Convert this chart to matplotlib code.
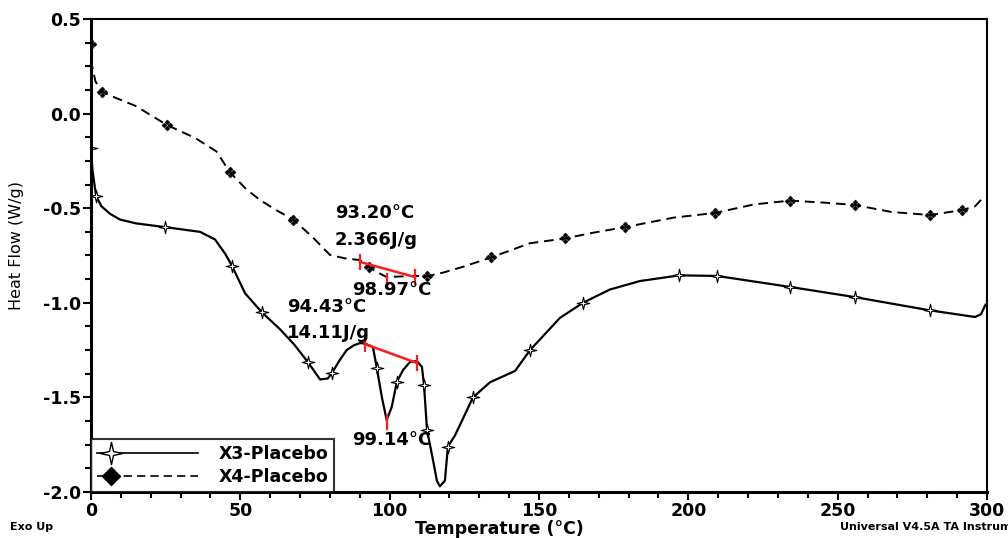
import matplotlib
matplotlib.use("Agg")
import matplotlib.pyplot as plt
from matplotlib.path import Path
from matplotlib.lines import Line2D
from matplotlib.legend_handler import HandlerLine2D
from matplotlib.ticker import MultipleLocator

# X3-Placebo (solid)
x3_temp = [0, 0.5, 1.7, 3.5, 6.4, 9.7, 15, 24.8, 36.5, 41.5, 44.9, 47.2, 51.6, 57.2,
           63.3, 68, 72.6, 76.7, 79.3, 80.7, 83.4, 85.6, 88, 90, 91.7, 94.4, 95.7,
           97.4, 99, 100.7, 102.4, 104.5, 106.8, 109.1, 110.8, 111.5, 112.5, 114.5,
           115.8, 116.8, 118.5, 119.5, 121.9, 127.9, 133.6, 142, 147, 157, 164.7,
           173.7, 183.8, 197, 209.6, 234, 255.8, 280.9, 296, 298, 299.5]
x3_flow = [-0.18, -0.30, -0.435, -0.49, -0.53, -0.56, -0.58, -0.60, -0.625, -0.665,
           -0.74, -0.805, -0.95, -1.05, -1.14, -1.22, -1.313, -1.405, -1.40, -1.37,
           -1.30, -1.25, -1.225, -1.213, -1.215, -1.234, -1.345, -1.50, -1.62, -1.55,
           -1.418, -1.355, -1.313, -1.308, -1.339, -1.434, -1.672, -1.83, -1.94, -1.97,
           -1.94, -1.76, -1.70, -1.50, -1.42, -1.36, -1.25, -1.08, -1.00, -0.93,
           -0.885, -0.855, -0.858, -0.916, -0.97, -1.04, -1.075, -1.06, -1.01]
x3_mark_t = [0, 1.7, 24.8, 47.2, 57.2, 72.6, 80.7, 95.7, 102.4, 111.5, 112.5, 119.5,
             127.9, 147, 164.7, 197, 209.6, 234, 255.8, 280.9]
x3_mark_f = [-0.18, -0.435, -0.60, -0.805, -1.05, -1.313, -1.37, -1.345, -1.418,
             -1.434, -1.672, -1.76, -1.50, -1.25, -1.00, -0.855, -0.858, -0.916,
             -0.97, -1.04]

# X4-Placebo (dashed)
x4_temp = [0, 0.3, 1.5, 3.7, 8, 15, 25.4, 35, 42, 46.5, 52, 56.6, 62, 67.7, 74, 80,
           85, 90, 93, 96, 99, 102, 105, 108.5, 112.5, 118, 124.5, 134, 147, 158.7,
           168, 178.8, 195, 209, 222, 234, 245, 255.8, 268, 281, 291.6, 296, 298]
x4_flow = [0.368, 0.257, 0.17, 0.114, 0.085, 0.04, -0.06, -0.13, -0.20, -0.31, -0.40,
           -0.457, -0.51, -0.56, -0.65, -0.747, -0.765, -0.774, -0.81, -0.84, -0.864,
           -0.862, -0.86, -0.858, -0.86, -0.84, -0.81, -0.76, -0.685, -0.66, -0.63,
           -0.60, -0.55, -0.525, -0.48, -0.46, -0.47, -0.483, -0.52, -0.536, -0.51,
           -0.49, -0.456]
x4_mark_t = [0, 3.7, 25.4, 46.5, 67.7, 93, 112.5, 134, 158.7, 178.8, 209, 234, 255.8,
             281, 291.6]
x4_mark_f = [0.368, 0.114, -0.06, -0.31, -0.56, -0.81, -0.86, -0.76, -0.66, -0.60,
             -0.525, -0.46, -0.483, -0.536, -0.51]

# integration baselines (red)
base4_t = [90.1, 108.5]
base4_f = [-0.784, -0.864]
base3_t = [91.7, 109.1]
base3_f = [-1.218, -1.318]


class LeftMarkerHandler(HandlerLine2D):
    # one marker near the left end of the legend line, like the TA software draws it
    def create_artists(self, legend, orig_handle, xdescent, ydescent, width, height,
                       fontsize, trans):
        x0 = -xdescent
        y = (height - ydescent) / 2
        line = Line2D([x0, x0 + 0.14 * width, x0 + width], [y, y, y])
        self.update_prop(line, orig_handle, legend)
        line.set_markevery([1])
        line.set_transform(trans)
        return [line]


star = Path([(0, 1), (0.18, 0.18), (1, 0), (0.18, -0.18), (0, -1), (-0.18, -0.18),
             (-1, 0), (-0.18, 0.18), (0, 1)],
            [Path.MOVETO] + [Path.LINETO] * 7 + [Path.CLOSEPOLY])
verts, codes = [], []
for cx, cy in [(0, 0.55), (0.55, 0), (0, -0.55), (-0.55, 0)]:
    verts += [(cx, cy + 0.45), (cx + 0.45, cy), (cx, cy - 0.45), (cx - 0.45, cy), (cx, cy + 0.45)]
    codes += [Path.MOVETO, Path.LINETO, Path.LINETO, Path.LINETO, Path.CLOSEPOLY]
diamonds = Path(verts, codes)

fig = plt.figure(figsize=(10.08, 5.38), dpi=100)
ax = fig.add_axes([91 / 1008, 1 - 492 / 538, 896 / 1008, 473 / 538])

ax.plot(x3_temp, x3_flow, color="black", lw=1.6)
ax.plot(x3_mark_t, x3_mark_f, ls="none", marker=star, ms=9, mfc="white",
        mec="black", mew=0.8)
ax.plot(x4_temp, x4_flow, color="black", lw=1.4, ls=(0, (5, 3)))
ax.plot(x4_mark_t, x4_mark_f, ls="none", marker=diamonds, ms=8, mfc="black",
        mec="black", mew=0.3)

red = "#ff1a1a"
ax.plot(base4_t, base4_f, color=red, lw=1.8)
ax.plot(base3_t, base3_f, color=red, lw=1.8)
ax.plot([90.1, 99, 108.5], [-0.784, -0.885, -0.864], ls="none", marker="|", ms=12,
        mew=1.6, color=red)
ax.plot([91.7, 109.1, 99.1], [-1.218, -1.318, -1.63], ls="none", marker="|", ms=12,
        mew=1.6, color=red)

fs = 12.5
afs = 13
ax.text(81.7, -0.525, "93.20°C", fontsize=afs, fontweight="bold", va="center")
ax.text(81.7, -0.668, "2.366J/g", fontsize=afs, fontweight="bold", va="center")
ax.text(87.4, -0.932, "98.97°C", fontsize=afs, fontweight="bold", va="center")
ax.text(65.6, -1.022, "94.43°C", fontsize=afs, fontweight="bold", va="center")
ax.text(65.6, -1.16, "14.11J/g", fontsize=afs, fontweight="bold", va="center")
ax.text(87.4, -1.725, "99.14°C", fontsize=afs, fontweight="bold", va="center")

ax.set_xlim(0, 300)
ax.set_ylim(-2.0, 0.5)
ax.xaxis.set_major_locator(MultipleLocator(50))
ax.xaxis.set_minor_locator(MultipleLocator(10))
ax.yaxis.set_major_locator(MultipleLocator(0.5))
ax.yaxis.set_minor_locator(MultipleLocator(0.125))
ax.yaxis.set_major_formatter(plt.FuncFormatter(lambda v, p: f"{v:.1f}"))
ax.tick_params(which="both", direction="out", width=1.5, labelsize=fs)
ax.tick_params(which="major", length=6, pad=1)
ax.tick_params(which="minor", length=4)
for lab in ax.get_xticklabels() + ax.get_yticklabels():
    lab.set_fontweight("bold")
for sp in ax.spines.values():
    sp.set_linewidth(1.5)
ax.spines["bottom"].set_linewidth(2.2)
ax.spines["left"].set_linewidth(2.2)

ax.set_xlabel("Temperature (°C)", fontsize=12.5, fontweight="bold")
ax.xaxis.set_label_coords(0.456, -0.06)
ax.set_ylabel("Heat Flow (W/g)", fontsize=11.5)
ax.yaxis.set_label_coords(-0.075, 0.522)

handles = [
    Line2D([], [], color="black", lw=1.2, marker=star, ms=16, mfc="white",
           mec="black", mew=1.0),
    Line2D([], [], color="black", lw=1.2, ls=(0, (5, 3)), marker=diamonds, ms=13,
           mfc="black", mec="black"),
]
leg = ax.legend(handles, ["X3-Placebo", "X4-Placebo"], loc="lower left",
                bbox_to_anchor=(0, 0), borderaxespad=0, frameon=True, fancybox=False,
                edgecolor="black", handlelength=5.8, handletextpad=1.2,
                labelspacing=0.3, borderpad=0.35,
                handler_map={Line2D: LeftMarkerHandler()},
                prop={"size": fs, "weight": "bold"})
leg.get_frame().set_linewidth(1.5)

fig.text(10 / 1008, 1 - 527 / 538, "Exo Up", fontsize=8, fontweight="bold",
         va="center")
fig.text(840 / 1008, 1 - 527 / 538, "Universal V4.5A TA Instruments", fontsize=8,
         fontweight="bold", va="center")

fig.savefig("out.png", dpi=100)
